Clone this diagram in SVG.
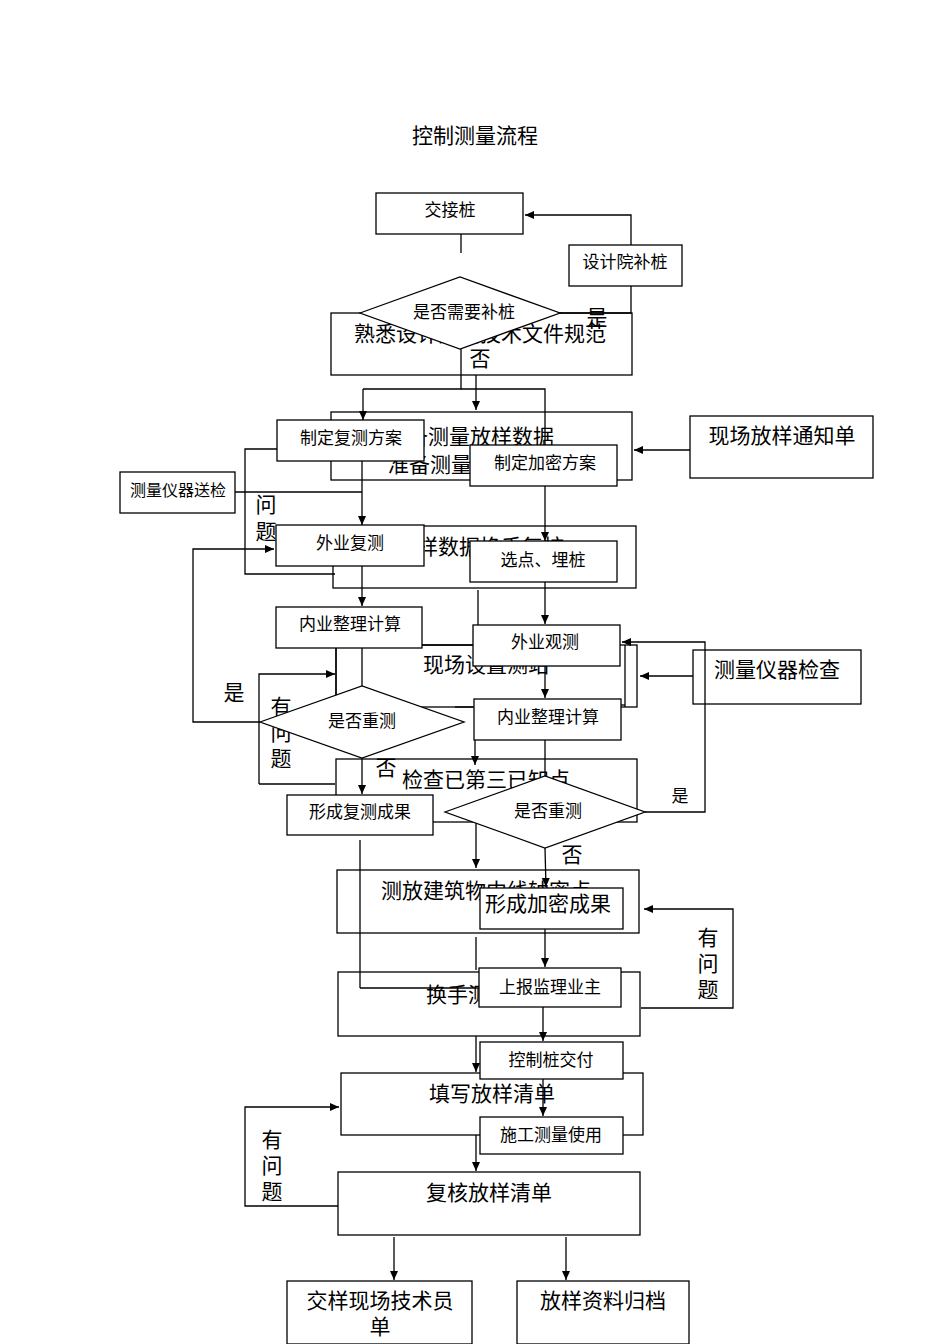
<svg xmlns="http://www.w3.org/2000/svg" width="950" height="1344" viewBox="0 0 950 1344">
<defs><marker id="a" markerWidth="10" markerHeight="10" refX="9" refY="5" orient="auto" markerUnits="userSpaceOnUse"><path d="M0,1 L9,5 L0,9z" fill="#000"/></marker></defs>
<style>
rect,polygon{fill:#fff;stroke:#000;stroke-width:1.3}
rect.page{stroke:none}
text{font-family:"Noto Sans CJK SC","Liberation Sans",sans-serif;fill:#000;text-anchor:middle}
.b{font-size:21px}.s{font-size:17px}.t{font-size:16px}
#c path,#c line,#c polyline{fill:none;stroke:#000;stroke-width:1.3}
.ar{marker-end:url(#a)}
</style>
<rect class="page" width="950" height="1344"/>
<text x="475" y="143" style="font-size:21px">控制测量流程</text>
<g id="background">
<g id="n_sx"><rect x="331" y="313" width="301" height="62"/><text class="b" x="480" y="341">熟悉设计图纸技术文件规范</text></g>
<g id="n_zb"><rect x="331" y="412" width="301" height="68"/><text class="b" x="470" y="444">准备测量放样数据</text><text class="b" x="430" y="472">准备测量</text></g>
<g id="n_hf"><rect x="333" y="526" width="303" height="62"/><text class="b" x="480" y="554">放样数据换手复核</text></g>
<g id="n_cz"><rect x="336" y="645" width="301" height="62"/><text class="b" x="486" y="672">现场设置测站</text></g>
<g id="n_jc"><rect x="336" y="759" width="301" height="63"/><text class="b" x="486" y="787">检查已第三已知点</text></g>
<g id="n_cf"><rect x="337" y="870" width="302" height="63"/><text class="b" x="486" y="898">测放建筑物中线轴密点</text></g>
<g id="n_hs"><rect x="338" y="972" width="302" height="64"/><text class="b" x="489" y="1002">换手测量复核</text></g>
<g id="n_tx"><rect x="341" y="1073" width="302" height="62"/><text class="b" x="492" y="1101">填写放样清单</text></g>
<g id="n_fh"><rect x="338" y="1172" width="302" height="63"/><text class="b" x="489" y="1200">复核放样清单</text></g>
<g id="n_jy"><rect x="287" y="1281" width="185" height="63"/><text class="b" x="380" y="1308">交样现场技术员</text><text class="b" x="380" y="1334">单</text></g>
<g id="n_gd"><rect x="517" y="1281" width="172" height="63"/><text class="b" x="603" y="1308">放样资料归档</text></g>
<g id="n_tz"><rect x="690" y="416" width="183" height="62"/><text class="b" x="782" y="443">现场放样通知单</text></g>
<g id="n_yq"><rect x="693" y="650" width="168" height="54"/><text class="b" x="777" y="677">测量仪器检查</text></g>
<text class="b" x="266" y="512">问</text><text class="b" x="266" y="539">题</text>
<text class="b" x="281" y="714">有</text><text class="b" x="281" y="740">问</text><text class="b" x="281" y="766">题</text>
<text class="b" x="708" y="945">有</text><text class="b" x="708" y="971">问</text><text class="b" x="708" y="997">题</text>
<text class="b" x="272" y="1147">有</text><text class="b" x="272" y="1173">问</text><text class="b" x="272" y="1199">题</text>
<text class="b" x="234" y="700">是</text>
</g>
<g id="c">
<line x1="461" y1="234" x2="461" y2="253"/>
<polyline class="ar" points="558,313 631,313 631,215 525,215"/>
<polyline points="461,349 461,389 363,389"/>
<line class="ar" x1="363" y1="389" x2="363" y2="420"/>
<polyline points="461,389 545,389 545,445"/>
<line class="ar" x1="476" y1="375" x2="476" y2="410"/>
<line class="ar" x1="690" y1="450" x2="634" y2="450"/>
<line class="ar" x1="362" y1="461" x2="362" y2="525"/>
<polyline points="235,492 362,492"/>
<polyline points="277,449 245,449 245,574 335,574"/>
<line class="ar" x1="545" y1="486" x2="545" y2="541"/>
<line class="ar" x1="362" y1="566" x2="362" y2="606"/>
<line class="ar" x1="545" y1="582" x2="545" y2="624"/>
<line x1="478" y1="590" x2="478" y2="625"/>
<line x1="362" y1="648" x2="362" y2="686"/>
<line x1="422" y1="645" x2="473" y2="645"/>
<polyline class="ar" points="260,722 193,722 193,549 274,549"/>
<polyline class="ar" points="259,784 259,674 335,674"/>
<line x1="259" y1="784" x2="335" y2="784"/>
<line x1="336" y1="648" x2="336" y2="695"/>
<line class="ar" x1="362" y1="758" x2="362" y2="794"/>
<line class="ar" x1="545" y1="666" x2="545" y2="698"/>
<line x1="625" y1="645" x2="625" y2="707"/>
<line x1="620" y1="705" x2="625" y2="705"/>
<line class="ar" x1="693" y1="676" x2="640" y2="676"/>
<polyline class="ar" points="645,812 705,812 705,642 622,642"/>
<line x1="455" y1="707" x2="473" y2="707"/>
<line class="ar" x1="475" y1="740" x2="475" y2="765"/>
<line x1="545" y1="740" x2="545" y2="780"/>
<line class="ar" x1="476" y1="822" x2="476" y2="868"/>
<line class="ar" x1="545" y1="848" x2="546" y2="887"/>
<line x1="360" y1="840" x2="360" y2="988"/><line x1="360" y1="988" x2="480" y2="988"/>
<line class="ar" x1="545" y1="929" x2="545" y2="967"/>
<line x1="476" y1="937" x2="476" y2="970"/>
<polyline class="ar" points="641,1008 733,1008 733,909 644,909"/>
<line class="ar" x1="543" y1="1007" x2="543" y2="1041"/>
<line class="ar" x1="476" y1="1036" x2="476" y2="1072"/>
<line class="ar" x1="543" y1="1079" x2="543" y2="1116"/>
<line class="ar" x1="476" y1="1135" x2="476" y2="1171"/>
<polyline class="ar" points="338,1206 245,1206 245,1107 339,1107"/>
<line class="ar" x1="394" y1="1237" x2="394" y2="1280"/>
<line class="ar" x1="566" y1="1237" x2="566" y2="1280"/>
</g>
<g id="n1"><rect x="376" y="193" width="147" height="41"/><text class="s" x="450" y="216">交接桩</text></g>
<g id="n2"><rect x="569" y="245" width="113" height="41"/><text class="s" x="625" y="268">设计院补桩</text></g>
<g id="d1"><polygon points="360,313 460,277 560,313 460,349"/><text class="s" x="464" y="318">是否需要补桩</text></g>
<text class="b" x="597" y="325">是</text>
<text class="b" x="480" y="366">否</text>
<g id="n3"><rect x="277" y="420" width="147" height="41"/><text class="s" x="351" y="444">制定复测方案</text></g>
<g id="n4"><rect x="470" y="445" width="147" height="41"/><text class="s" x="545" y="469">制定加密方案</text></g>
<g id="n5"><rect x="120" y="472" width="115" height="41"/><text class="t" x="178" y="496">测量仪器送检</text></g>
<g id="n6"><rect x="276" y="525" width="148" height="41"/><text class="s" x="350" y="549">外业复测</text></g>
<g id="n7"><rect x="470" y="541" width="147" height="41"/><text class="s" x="543" y="566">选点、埋桩</text></g>
<g id="n8"><rect x="276" y="607" width="146" height="41"/><text class="s" x="350" y="630">内业整理计算</text></g>
<g id="n9"><rect x="473" y="625" width="147" height="41"/><text class="s" x="545" y="648">外业观测</text></g>
<g id="d2"><polygon points="260,722 362,686 464,722 362,758"/><text class="s" x="362" y="727">是否重测</text></g>
<g id="n10"><rect x="474" y="699" width="147" height="41"/><text class="s" x="548" y="723">内业整理计算</text></g>
<text class="b" x="386" y="775">否</text>
<g id="n11"><rect x="287" y="795" width="146" height="40"/><text class="s" x="360" y="818">形成复测成果</text></g>
<g id="d3"><polygon points="445,812 545,776 645,812 545,848"/><text class="s" x="548" y="817">是否重测</text></g>
<text class="s" x="680" y="802">是</text>
<text class="b" x="572" y="862">否</text>
<g id="n12"><rect x="480" y="888" width="143" height="41"/><text class="b" x="548" y="911">形成加密成果</text></g>
<g id="n13"><rect x="479" y="968" width="142" height="39"/><text class="s" x="550" y="993">上报监理业主</text></g>
<g id="n14"><rect x="480" y="1042" width="143" height="37"/><text class="s" x="551" y="1066">控制桩交付</text></g>
<g id="n15"><rect x="480" y="1117" width="143" height="37"/><text class="s" x="551" y="1141">施工测量使用</text></g>
</svg>
